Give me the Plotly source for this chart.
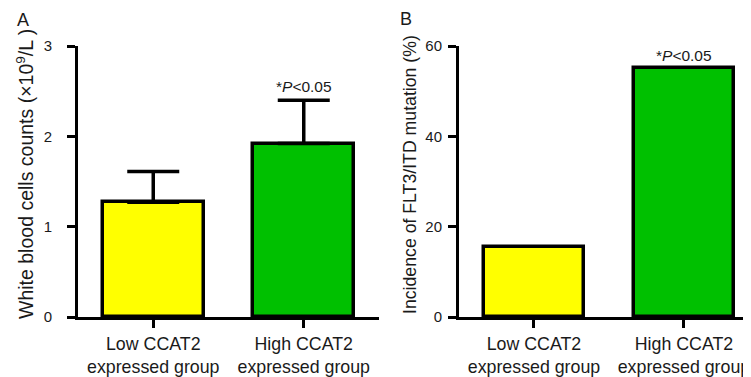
import plotly.graph_objects as go

categories = ["Low CCAT2<br>expressed group", "High CCAT2<br>expressed group"]
wbc_mean = [1.27, 1.92]
wbc_err = [0.34, 0.48]
flt3_incidence = [15.5, 55.1]
bar_colors = ["#FFFF00", "#00C000"]
sig_label = "*<i>P</i><0.05"

# page body has an 8px margin, so the figure is drawn 8px in from the window corner
OFF = 8
W, H = 751 - OFF, 377 - OFF
FONT = "Liberation Sans, Arial, sans-serif"
TXT = "#1a1a1a"


def px_x(p):
    return (p - OFF) / W


def px_y(p):
    return 1 - (p - OFF) / H


fig = go.Figure()
fig.add_trace(go.Bar(
    x=[0, 1], y=wbc_mean, width=0.67,
    marker=dict(color=bar_colors, line=dict(color="black", width=3.5)),
    error_y=dict(type="data", symmetric=False, array=wbc_err, arrayminus=[0, 0],
                 color="black", thickness=3.5, width=26),
    xaxis="x", yaxis="y", showlegend=False,
))
fig.add_trace(go.Bar(
    x=[0, 1], y=flt3_incidence, width=0.67,
    marker=dict(color=bar_colors, line=dict(color="black", width=3.5)),
    xaxis="x2", yaxis="y2", showlegend=False,
))

ydom = [px_y(317), px_y(46)]
axis_common = dict(showline=True, linecolor="black", linewidth=3, ticks="outside",
                   ticklen=8, tickwidth=3, tickcolor="black", showgrid=False,
                   zeroline=False, automargin=False)
cat_font = dict(family=FONT, size=17.8, color=TXT)
num_font = dict(family=FONT, size=15, color=TXT)

fig.update_layout(
    template="none",
    width=W, height=H, margin=dict(l=0, r=0, t=0, b=0),
    plot_bgcolor="white", paper_bgcolor="white",
    font=dict(family=FONT, color=TXT),
    xaxis=dict(domain=[px_x(78), px_x(379)], range=[-0.5, 1.5], tickvals=[0, 1],
               ticktext=categories, anchor="y", ticklabelstandoff=1,
               tickfont=cat_font, **axis_common),
    yaxis=dict(domain=ydom, range=[0, 3], tickvals=[0, 1, 2, 3], anchor="x",
               ticklabelstandoff=12, tickfont=num_font, **axis_common),
    xaxis2=dict(domain=[px_x(459), 1], range=[-0.5, 1.447], tickvals=[0, 1],
                ticktext=categories, anchor="y2", ticklabelstandoff=1,
                tickfont=cat_font, **axis_common),
    yaxis2=dict(domain=ydom, range=[0, 60], tickvals=[0, 20, 40, 60], anchor="x2",
                ticklabelstandoff=3, tickfont=num_font, **axis_common),
    bargap=0,
)

# axis titles (rotated text beside each y axis)
fig.add_annotation(x=px_x(25), y=px_y(174), xref="paper", yref="paper",
                   text="White blood cells counts (×10<sup>9</sup>/L )", textangle=-90,
                   showarrow=False, xanchor="center", yanchor="middle",
                   font=dict(family=FONT, size=19.5, color=TXT))
fig.add_annotation(x=px_x(410), y=px_y(175), xref="paper", yref="paper",
                   text="Incidence of FLT3/ITD mutation (%)", textangle=-90,
                   showarrow=False, xanchor="center", yanchor="middle",
                   font=dict(family=FONT, size=17.7, color=TXT))

fig.add_annotation(x=1, y=wbc_mean[1] + wbc_err[1], xref="x", yref="y", text=sig_label,
                   showarrow=False, yanchor="bottom", yshift=3,
                   font=dict(family=FONT, size=15.5, color=TXT))
fig.add_annotation(x=1, y=flt3_incidence[1], xref="x2", yref="y2", text=sig_label,
                   showarrow=False, yanchor="bottom", yshift=2,
                   font=dict(family=FONT, size=15.5, color=TXT))
fig.add_annotation(x=px_x(23), y=px_y(20), xref="paper", yref="paper", text="A",
                   showarrow=False, xanchor="center", yanchor="middle",
                   font=dict(family=FONT, size=18, color=TXT))
fig.add_annotation(x=px_x(406), y=px_y(19), xref="paper", yref="paper", text="B",
                   showarrow=False, xanchor="center", yanchor="middle",
                   font=dict(family=FONT, size=18, color=TXT))

fig.write_html("out.html")
